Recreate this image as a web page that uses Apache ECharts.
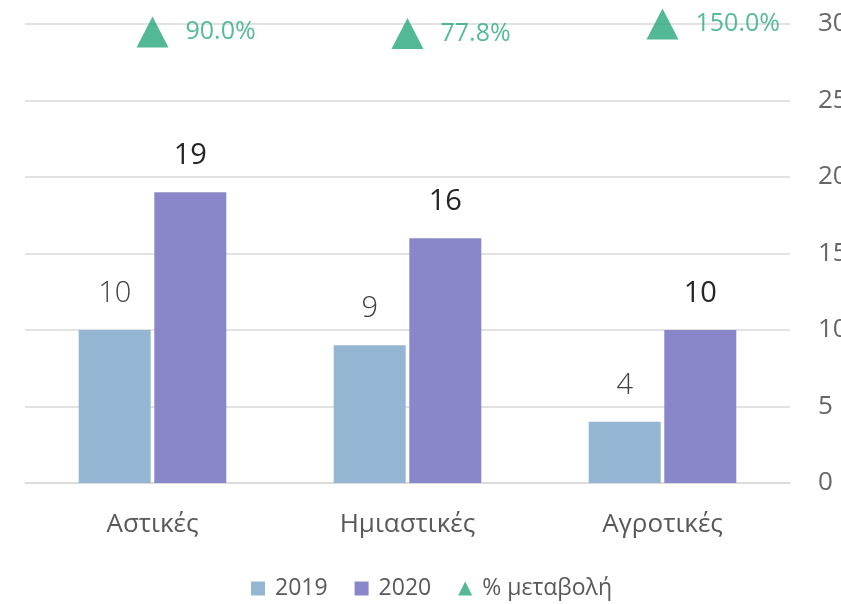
<!DOCTYPE html>
<html>
<head>
<meta charset="utf-8">
<script src="https://cdn.jsdelivr.net/npm/echarts@6/dist/echarts.min.js"></script>
<style>html,body{margin:0;padding:0;background:#fff;overflow:hidden}#c{width:841px;height:604px}</style>
</head>
<body>
<div id="c"></div>
<script>
const categories = ['Αστικές', 'Ημιαστικές', 'Αγροτικές'];
const values2019 = [10, 9, 4];
const values2020 = [19, 16, 10];
const pctChange = [90.0, 77.8, 150.0];
const seriesNames = ['2019', '2020', '% μεταβολή'];

const FONT = '"Open Sans", "Noto Sans", sans-serif';
const GREEN = '#27a67b';
const chart = echarts.init(document.getElementById('c'), null, {renderer: 'canvas'});
chart.setOption({
  animation: false,
  backgroundColor: '#ffffff',
  textStyle: {fontFamily: FONT},
  grid: {left: 25, right: 51, top: 24, bottom: 121, containLabel: false, outerBoundsMode: 'none'},
  legend: {
    left: 246, top: 572,
    itemWidth: 14, itemHeight: 14, itemGap: 27,
    textStyle: {fontFamily: FONT, fontSize: 23, color: '#595959', padding: [0, 0, 0, 5]},
    data: [
      {name: seriesNames[0], icon: 'rect'},
      {name: seriesNames[1], icon: 'rect'},
      {name: seriesNames[2], icon: 'triangle', itemStyle: {color: GREEN}}
    ]
  },
  xAxis: {
    type: 'category',
    data: categories,
    axisTick: {show: false},
    axisLine: {lineStyle: {color: '#d9d9d9', width: 1.5}},
    axisLabel: {fontFamily: FONT, fontSize: 26, color: '#595959', margin: 29}
  },
  yAxis: [
    {
      type: 'value', position: 'right', min: 0, max: 30, interval: 5,
      axisLine: {show: false}, axisTick: {show: false},
      splitLine: {lineStyle: {color: '#d9d9d9', width: 1.5}},
      axisLabel: {fontFamily: FONT, fontSize: 26, color: '#666666', margin: 28}
    },
    {
      type: 'value', position: 'left', min: -3300, max: 150, show: false,
      splitLine: {show: false}
    }
  ],
  series: [
    {
      name: seriesNames[0], type: 'bar', data: values2019,
      barWidth: 72, barGap: '5%',
      itemStyle: {color: '#95b6d3'},
      label: {show: true, position: 'top', distance: 22, fontFamily: FONT, fontSize: 29, color: '#404040', fontWeight: 300}
    },
    {
      name: seriesNames[1], type: 'bar', data: values2020,
      barWidth: 72,
      itemStyle: {color: '#8987c9'},
      label: {show: true, position: 'top', distance: 22, fontFamily: FONT, fontSize: 29, color: '#262626', fontWeight: 'normal'}
    },
    {
      name: seriesNames[2], type: 'scatter', yAxisIndex: 1, data: pctChange,
      symbol: 'triangle', symbolSize: [32, 31], clip: false,
      itemStyle: {color: GREEN},
      label: {show: true, position: 'right', distance: 17, fontFamily: FONT, fontSize: 25, color: '#2aaa80',
        formatter: p => p.value.toFixed(1) + '%'}
    }
  ]
});
</script>
</body>
</html>
